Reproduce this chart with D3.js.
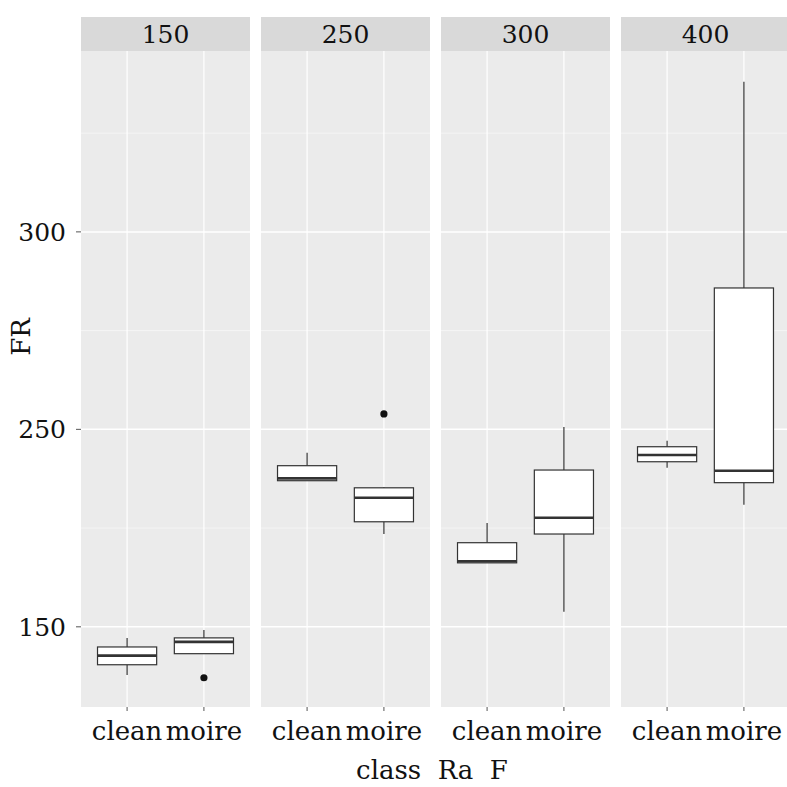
<!DOCTYPE html>
<html lang="en">
  <head>
    <meta charset="UTF-8" />
    <title>FR by class, faceted by Ra F</title>
    <script src="https://d3js.org/d3.v7.min.js"></script>
    <style>
      body {
        margin: 0;
        background: #ffffff;
      }
      svg text {
        font-family: "DejaVu Serif", serif;
        fill: #111111;
      }
    </style>
  </head>
  <body>
    <svg id="chart" width="787" height="787"></svg>

    <script>
      // facets (Ra F) and classes
      const facets = ["150", "250", "300", "400"];
      const classes = ["clean", "moire"];

      // box stats, one entry per facet x class (clean, moire)
      const whiskerLow = [187.8, 193.2, 237.0, 223.5, 216.2, 203.8, 240.3, 230.9];
      const q1 = [190.4, 193.2, 237.0, 226.6, 216.2, 223.5, 241.8, 236.5];
      const median = [192.7, 196.2, 237.6, 232.7, 216.6, 227.6, 243.5, 239.5];
      const q3 = [194.9, 197.2, 240.8, 235.2, 221.3, 239.7, 245.6, 285.8];
      const whiskerHigh = [197.2, 199.2, 244.1, 235.4, 226.3, 250.6, 247.1, 338.0];

      // outliers
      const outlierFacet = ["150", "250"];
      const outlierClass = ["moire", "moire"];
      const outlierValue = [187.1, 253.9];

      // y ticks as printed on the chart
      const yTickValues = [200, 250, 300];
      const yTickLabels = ["150", "250", "300"];
      const yMinorValues = [225, 275, 325];

      const svg = d3.select("#chart");

      const panelTop = 51, panelBottom = 707;
      const stripTop = 17;

      const fx = d3.scaleBand().domain(facets).range([81, 790]).paddingInner(11 / 180).paddingOuter(0);
      const bw = fx.bandwidth();
      const x = d3.scaleLinear().domain([0.4, 2.6]).range([0, bw]);
      const y = d3.scaleLinear().domain([179.7, 345.8]).range([panelBottom, panelTop]);
      const boxW = x(0.77) - x(0);

      const boxes = [];
      facets.forEach((f, i) => {
        classes.forEach((c, j) => {
          const k = i * 2 + j;
          boxes.push({
            facet: f, cls: c, pos: j + 1,
            lo: whiskerLow[k], q1: q1[k], med: median[k], q3: q3[k], hi: whiskerHigh[k],
          });
        });
      });

      const panels = svg
        .selectAll(".panel")
        .data(facets)
        .join("g")
        .attr("class", "panel")
        .attr("transform", (d) => `translate(${fx(d)},0)`);

      // panel background
      panels
        .append("rect")
        .attr("x", 0)
        .attr("y", panelTop)
        .attr("width", bw)
        .attr("height", panelBottom - panelTop)
        .attr("fill", "#ebebeb");

      // grid, ticks and class labels
      panels.each(function () {
        const g = d3.select(this);
        g.selectAll(".minor")
          .data(yMinorValues)
          .join("line")
          .attr("x1", 0)
          .attr("x2", bw)
          .attr("y1", (d) => y(d))
          .attr("y2", (d) => y(d))
          .attr("stroke", "#f7f7f7")
          .attr("stroke-width", 0.8);
        g.selectAll(".major")
          .data(yTickValues)
          .join("line")
          .attr("x1", 0)
          .attr("x2", bw)
          .attr("y1", (d) => y(d))
          .attr("y2", (d) => y(d))
          .attr("stroke", "#ffffff")
          .attr("stroke-width", 1.5);
        g.selectAll(".vgrid")
          .data([1, 2])
          .join("line")
          .attr("x1", (d) => x(d))
          .attr("x2", (d) => x(d))
          .attr("y1", panelTop)
          .attr("y2", panelBottom)
          .attr("stroke", "#ffffff")
          .attr("stroke-width", 1.2);
        g.selectAll(".xtick")
          .data(classes)
          .join("line")
          .attr("x1", (d, i) => x(i + 1))
          .attr("x2", (d, i) => x(i + 1))
          .attr("y1", panelBottom)
          .attr("y2", panelBottom + 4)
          .attr("stroke", "#555555")
          .attr("stroke-width", 1);
        g.selectAll(".xlab")
          .data(classes)
          .join("text")
          .attr("x", (d, i) => x(i + 1))
          .attr("y", 740)
          .attr("text-anchor", "middle")
          .attr("font-size", 26)
          .text((d) => d);
      });

      // strips
      panels
        .append("rect")
        .attr("x", 0)
        .attr("y", stripTop)
        .attr("width", bw)
        .attr("height", panelTop - stripTop)
        .attr("fill", "#d9d9d9");
      panels
        .append("text")
        .attr("x", bw / 2)
        .attr("y", (stripTop + panelTop) / 2 + 9)
        .attr("text-anchor", "middle")
        .attr("font-size", 25)
        .text((d) => d);

      // boxplots
      const bx = svg
        .selectAll(".box")
        .data(boxes)
        .join("g")
        .attr("class", "box")
        .attr("transform", (d) => `translate(${fx(d.facet) + x(d.pos)},0)`);

      bx.append("line")
        .attr("y1", (d) => y(d.hi))
        .attr("y2", (d) => y(d.q3))
        .attr("stroke", "#333333")
        .attr("stroke-width", 1.2);
      bx.append("line")
        .attr("y1", (d) => y(d.q1))
        .attr("y2", (d) => y(d.lo))
        .attr("stroke", "#333333")
        .attr("stroke-width", 1.2);
      bx.append("rect")
        .attr("x", -boxW / 2)
        .attr("width", boxW)
        .attr("y", (d) => y(d.q3))
        .attr("height", (d) => y(d.q1) - y(d.q3))
        .attr("fill", "#ffffff")
        .attr("stroke", "#333333")
        .attr("stroke-width", 1.2);
      bx.append("line")
        .attr("x1", -boxW / 2)
        .attr("x2", boxW / 2)
        .attr("y1", (d) => y(d.med))
        .attr("y2", (d) => y(d.med))
        .attr("stroke", "#333333")
        .attr("stroke-width", 2.6);

      // outliers
      svg
        .selectAll(".outlier")
        .data(outlierValue)
        .join("circle")
        .attr("cx", (d, i) => fx(outlierFacet[i]) + x(classes.indexOf(outlierClass[i]) + 1))
        .attr("cy", (d) => y(d))
        .attr("r", 3.6)
        .attr("fill", "#111111");

      // y axis (left panel only)
      svg
        .selectAll(".ytick")
        .data(yTickValues)
        .join("line")
        .attr("x1", 76)
        .attr("x2", 81)
        .attr("y1", (d) => y(d))
        .attr("y2", (d) => y(d))
        .attr("stroke", "#555555")
        .attr("stroke-width", 1);
      svg
        .selectAll(".ylab")
        .data(yTickValues)
        .join("text")
        .attr("x", 66)
        .attr("y", (d) => y(d))
        .attr("dy", "0.35em")
        .attr("text-anchor", "end")
        .attr("font-size", 25)
        .text((d, i) => yTickLabels[i]);

      // axis titles
      svg
        .append("text")
        .attr("transform", "translate(30,337) rotate(-90)")
        .attr("text-anchor", "middle")
        .attr("font-size", 26)
        .text("FR");
      svg
        .append("text")
        .attr("x", 432)
        .attr("y", 779)
        .attr("text-anchor", "middle")
        .attr("font-size", 26)
        .style("white-space", "pre")
        .text("class  Ra  F");
    </script>
  </body>
</html>
